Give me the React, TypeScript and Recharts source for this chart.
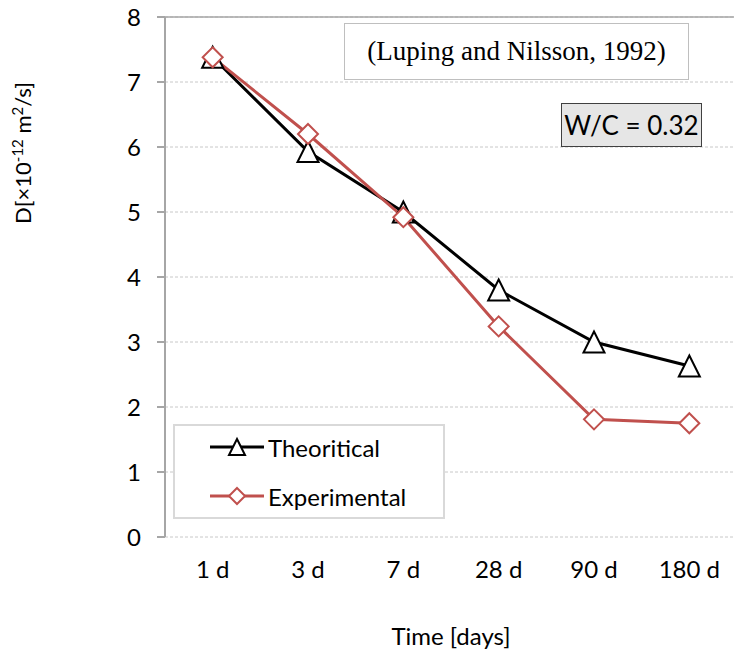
import React from 'react';
import { LineChart, Line, XAxis, YAxis, CartesianGrid, Legend, ReferenceLine } from 'recharts';

const categories = ['1 d', '3 d', '7 d', '28 d', '90 d', '180 d'];
const theoretical = [7.38, 5.93, 5.0, 3.8, 3.0, 2.63];
const experimental = [7.38, 6.2, 4.92, 3.24, 1.81, 1.75];
const yTicks = [0, 1, 2, 3, 4, 5, 6, 7, 8];
const seriesNames = ['Theoritical', 'Experimental'];
const citation = '(Luping and Nilsson, 1992)';
const wcLabel = 'W/C = 0.32';

const data = categories.map((c, i) => ({
  pos: i + 0.5,
  label: c,
  theoretical: theoretical[i],
  experimental: experimental[i],
}));
const boundaryTicks = categories.map((_, i) => i).concat([categories.length]);
const centerTicks = categories.map((_, i) => i + 0.5);

const FONT = 'Lato, "Open Sans", sans-serif';
const RED = '#c0504d';
const AXIS = '#a6a6a6';

const trianglePath = (cx: number, cy: number, s = 10.5) =>
  `M${cx},${cy - s} L${cx + s},${cy + s} L${cx - s},${cy + s} Z`;
const diamondPath = (cx: number, cy: number, s = 10) =>
  `M${cx},${cy - s} L${cx + s},${cy} L${cx},${cy + s} L${cx - s},${cy} Z`;

const TriangleDot = (props: any) => {
  const { cx, cy } = props;
  if (cx == null || cy == null) return <g key={props.key} />;
  return <path key={props.key} d={trianglePath(cx, cy)} fill="#fff" stroke="#000" strokeWidth={2} />;
};
const DiamondDot = (props: any) => {
  const { cx, cy } = props;
  if (cx == null || cy == null) return <g key={props.key} />;
  return <path key={props.key} d={diamondPath(cx, cy)} fill="#fff" stroke={RED} strokeWidth={2} />;
};

const YLabel = () => (
  <text
    transform="rotate(-90)"
    x={-153}
    y={31}
    textAnchor="middle"
    fontFamily={FONT}
    fontSize={22}
    fill="#000"
  >
    <tspan>D[×10</tspan>
    <tspan dy={-8} fontSize={15}>-12</tspan>
    <tspan dy={8}> m</tspan>
    <tspan dy={-8} fontSize={15}>2</tspan>
    <tspan dy={8}>/s]</tspan>
  </text>
);

const LegendContent = () => {
  const rows = [
    { name: seriesNames[0], color: '#000', marker: 'tri' },
    { name: seriesNames[1], color: RED, marker: 'dia' },
  ];
  return (
    <div
      style={{
        width: 272,
        height: 95,
        boxSizing: 'border-box',
        border: '2px solid #d9d9d9',
        background: '#fff',
        position: 'relative',
        fontFamily: FONT,
        fontSize: 24,
        color: '#000',
      }}
    >
      {rows.map((r, i) => (
        <div
          key={r.name}
          style={{
            position: 'absolute',
            left: 33,
            top: 21 + i * 49 - 17,
            height: 34,
            display: 'flex',
            alignItems: 'center',
            whiteSpace: 'nowrap',
          }}
        >
          <svg width={56} height={34} style={{ display: 'block' }}>
            <line x1={2} y1={17} x2={56} y2={17} stroke={r.color} strokeWidth={3} />
            {r.marker === 'tri' ? (
              <path d={trianglePath(29, 17, 8)} fill="#fff" stroke="#000" strokeWidth={2} />
            ) : (
              <path d={diamondPath(29, 17, 8)} fill="#fff" stroke={RED} strokeWidth={2} />
            )}
          </svg>
          <span style={{ marginLeft: 4 }}>{r.name}</span>
        </div>
      ))}
    </div>
  );
};

export default function App() {
  return (
    <div style={{ position: 'absolute', left: 0, top: 0, width: 734, height: 658, background: '#fff', overflow: 'hidden' }}>
      <LineChart width={734} height={658} data={data} margin={{ top: 17, right: -3, bottom: 0, left: 0 }}>
        <CartesianGrid
          xAxisId="grid"
          vertical={false}
          stroke="#c8c8c8"
          strokeDasharray="3 2"
        />
        <XAxis
          xAxisId="grid"
          dataKey="pos"
          type="number"
          domain={[0, categories.length]}
          ticks={boundaryTicks}
          tick={false}
          tickSize={8}
          height={0}
          axisLine={{ stroke: AXIS, strokeWidth: 2 }}
          tickLine={{ stroke: AXIS, strokeWidth: 2 }}
        />
        <XAxis
          xAxisId="labels"
          dataKey="pos"
          type="number"
          domain={[0, categories.length]}
          ticks={centerTicks}
          tickFormatter={(v: number) => categories[Math.floor(v)]}
          axisLine={false}
          tickLine={false}
          tickSize={0}
          tickMargin={24}
          height={121}
          tick={{ fontFamily: FONT, fontSize: 24, fill: '#000' }}
          label={{ value: 'Time [days]', position: 'insideBottom', offset: 13, fontFamily: FONT, fontSize: 24, fill: '#000' }}
        />
        <YAxis
          domain={[0, 8]}
          ticks={yTicks}
          width={165}
          tickSize={8}
          tickMargin={16}
          axisLine={{ stroke: AXIS, strokeWidth: 2 }}
          tickLine={{ stroke: AXIS, strokeWidth: 2 }}
          tick={{ fontFamily: FONT, fontSize: 24, fill: '#000' }}
          label={{ content: () => <YLabel /> }}
        />
        <ReferenceLine xAxisId="grid" y={8} stroke={AXIS} strokeWidth={1.5} />
        <Line
          xAxisId="grid"
          dataKey="theoretical"
          name={seriesNames[0]}
          stroke="#000"
          strokeWidth={3}
          dot={TriangleDot}
          isAnimationActive={false}
        />
        <Line
          xAxisId="grid"
          dataKey="experimental"
          name={seriesNames[1]}
          stroke={RED}
          strokeWidth={3}
          dot={DiamondDot}
          isAnimationActive={false}
        />
        <Legend
          layout="vertical"
          align="center"
          verticalAlign="middle"
          content={() => <LegendContent />}
          wrapperStyle={{ left: 173, top: 424, width: 272, height: 95 }}
        />
      </LineChart>
      <div
        style={{
          position: 'absolute',
          left: 344,
          top: 23,
          width: 345,
          height: 57,
          boxSizing: 'border-box',
          border: '1px solid #bfbfbf',
          background: '#fff',
          fontFamily: '"Liberation Serif", "DejaVu Serif", serif',
          fontSize: 27,
          display: 'flex',
          alignItems: 'center',
          justifyContent: 'center',
          color: '#000',
        }}
      >
        {citation}
      </div>
      <div
        style={{
          position: 'absolute',
          left: 561,
          top: 103,
          width: 141,
          height: 44,
          boxSizing: 'border-box',
          border: '1px solid #404040',
          background: '#e6e6e6',
          fontFamily: FONT,
          fontSize: 26,
          display: 'flex',
          alignItems: 'center',
          justifyContent: 'center',
          color: '#000',
          whiteSpace: 'nowrap',
        }}
      >
        {wcLabel}
      </div>
    </div>
  );
}
